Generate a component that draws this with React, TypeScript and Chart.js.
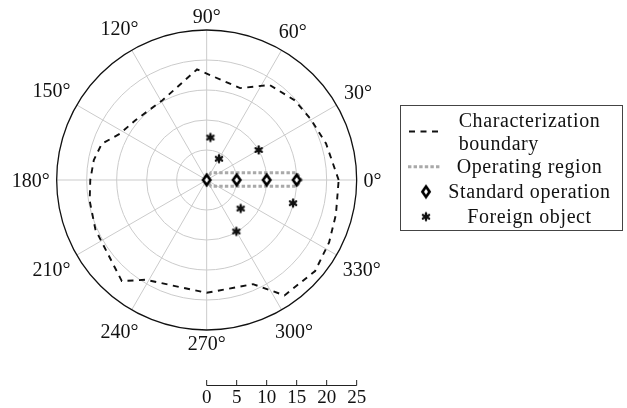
import React, { useEffect, useRef } from 'react';
import { Chart, registerables } from 'chart.js';

Chart.register(...registerables);

// ---- data (polar: angle in degrees, radius in units) ----
const boundaryAngles = [0, 17, 30, 42, 56.5, 70, 95, 119, 140, 152, 161, 170, 180, 190, 204, 230, 238.5, 270, 294, 304, 320, 333, 345];
const boundaryRadii = [22.0, 20.8, 20.1, 19.8, 19.0, 16.3, 18.5, 15.2, 15.5, 16.4, 18.5, 19.1, 19.4, 19.8, 20.3, 22.0, 19.5, 18.8, 19.0, 23.2, 23.6, 22.9, 22.3];

const regionAngles = [0, 60, 4.6, 0, -4, -56, 0];
const regionRadii = [0, 1.4, 15.05, 15.8, 15.04, 1.25, 0];

const standardAngles = [0, 0, 0, 0];
const standardRadii = [0, 5, 10, 15];

const foreignAngles = [85, 60, 30, 320, 300, 345];
const foreignRadii = [7.1, 4.1, 10.0, 7.4, 9.9, 14.9];

const angleTicks = [0, 30, 60, 90, 120, 150, 180, 210, 240, 270, 300, 330];
const radialTicks = [0, 5, 10, 15, 20, 25];
const radialMax = 25;

const seriesLabels = ['Characterization boundary', 'Operating region', 'Standard operation', 'Foreign object'];

const FONT = "'Liberation Serif', 'Times New Roman', serif";

const toXY = (angles: number[], radii: number[]) =>
  angles.map((a, i) => ({
    x: radii[i] * Math.cos((a * Math.PI) / 180),
    y: radii[i] * Math.sin((a * Math.PI) / 180),
  }));

function makeDiamond(): HTMLCanvasElement {
  const c = document.createElement('canvas');
  c.width = 12;
  c.height = 16;
  const g = c.getContext('2d')!;
  g.beginPath();
  g.moveTo(6, 8 - 5.2);
  g.lineTo(6 + 3.6, 8);
  g.lineTo(6, 8 + 5.2);
  g.lineTo(6 - 3.6, 8);
  g.closePath();
  g.fillStyle = '#ffffff';
  g.fill();
  g.lineWidth = 2.7;
  g.strokeStyle = '#000000';
  g.stroke();
  return c;
}

function makeAsterisk(): HTMLCanvasElement {
  const c = document.createElement('canvas');
  c.width = 12;
  c.height = 12;
  const g = c.getContext('2d')!;
  g.strokeStyle = '#111111';
  g.lineWidth = 2.3;
  g.lineCap = 'round';
  [90, 30, 150].forEach((a) => {
    const r = 3.6;
    const dx = r * Math.cos((a * Math.PI) / 180);
    const dy = r * Math.sin((a * Math.PI) / 180);
    g.beginPath();
    g.moveTo(6 - dx, 6 + dy);
    g.lineTo(6 + dx, 6 - dy);
    g.stroke();
  });
  return c;
}

export default function App() {
  const ref = useRef<HTMLCanvasElement | null>(null);

  useEffect(() => {
    if (!ref.current) return;
    const diamond = makeDiamond();
    const asterisk = makeAsterisk();
    const dashPattern = [6, 5.5];
    const dotPattern = [3.4, 2.2];

    const polarPlugin = {
      id: 'polarDecor',
      beforeDatasetsDraw(chart: any) {
        const { ctx } = chart;
        const xs = chart.scales.x;
        const ys = chart.scales.y;
        const cx = xs.getPixelForValue(0);
        const cy = ys.getPixelForValue(0);
        const pr = (r: number) => xs.getPixelForValue(r) - cx;
        ctx.save();
        ctx.strokeStyle = '#cbcbcb';
        ctx.lineWidth = 1;
        radialTicks.forEach((r) => {
          if (r <= 0 || r >= radialMax) return;
          ctx.beginPath();
          ctx.arc(cx, cy, pr(r), 0, Math.PI * 2);
          ctx.stroke();
        });
        angleTicks.forEach((a) => {
          const t = (a * Math.PI) / 180;
          ctx.beginPath();
          ctx.moveTo(cx, cy);
          ctx.lineTo(cx + pr(radialMax) * Math.cos(t), cy - pr(radialMax) * Math.sin(t));
          ctx.stroke();
        });
        ctx.strokeStyle = '#111111';
        ctx.lineWidth = 1.3;
        ctx.beginPath();
        ctx.arc(cx, cy, pr(radialMax), 0, Math.PI * 2);
        ctx.stroke();
        ctx.restore();
      },
      afterDraw(chart: any) {
        const { ctx } = chart;
        const xs = chart.scales.x;
        const ys = chart.scales.y;
        const cx = xs.getPixelForValue(0);
        const cy = ys.getPixelForValue(0);
        const R = xs.getPixelForValue(radialMax) - cx;
        ctx.save();
        // angle labels
        ctx.font = `20px ${FONT}`;
        ctx.fillStyle = '#111111';
        ctx.textAlign = 'center';
        ctx.textBaseline = 'alphabetic';
        const h = 13.3;
        const sep = 6.8;
        angleTicks.forEach((a) => {
          const t = (a * Math.PI) / 180;
          const txt = `${a}°`;
          const w = ctx.measureText(txt).width;
          const ux = Math.cos(t);
          const uy = -Math.sin(t);
          const px = cx + R * ux;
          const py = cy + R * uy;
          const d = (w / 2 + sep) * Math.abs(ux) + (h / 2 + sep) * Math.abs(uy);
          const tx = px + ux * d;
          const ty = py + uy * d;
          ctx.fillText(txt, tx, ty + h / 2);
        });

        // radial axis below
        const axisY = 385.5;
        ctx.strokeStyle = '#222222';
        ctx.lineWidth = 1;
        ctx.beginPath();
        ctx.moveTo(xs.getPixelForValue(radialTicks[0]), axisY);
        ctx.lineTo(xs.getPixelForValue(radialTicks[radialTicks.length - 1]), axisY);
        ctx.stroke();
        ctx.font = `19px ${FONT}`;
        radialTicks.forEach((v) => {
          const x = xs.getPixelForValue(v);
          ctx.beginPath();
          ctx.moveTo(x, axisY);
          ctx.lineTo(x, axisY - 5.5);
          ctx.stroke();
          ctx.fillText(String(v), x, 403);
        });

        // legend
        const bx = 400.5, by = 105.5, bw = 222, bh = 125;
        ctx.strokeStyle = '#444444';
        ctx.lineWidth = 1;
        ctx.strokeRect(bx, by, bw, bh);
        const sx0 = 409, sx1 = 440, sxc = 426;
        const tc = 529.5;
        ctx.font = `20px ${FONT}`;
        (ctx as any).letterSpacing = '0.6px';

        // row 1: boundary (two lines, left aligned block, centered)
        const words = seriesLabels[0].split(' ');
        const w1 = ctx.measureText(words[0]).width;
        const left = tc - w1 / 2;
        ctx.textAlign = 'left';
        ctx.fillText(words[0], left, 126.7);
        ctx.fillText(words.slice(1).join(' '), left, 150);
        ctx.strokeStyle = '#111111';
        ctx.lineWidth = 1.9;
        ctx.setLineDash(dashPattern);
        ctx.beginPath();
        ctx.moveTo(sx0, 131.5);
        ctx.lineTo(sx1, 131.5);
        ctx.stroke();

        // row 2: region
        ctx.strokeStyle = '#a9a9a9';
        ctx.lineWidth = 3;
        ctx.setLineDash(dotPattern);
        ctx.beginPath();
        ctx.moveTo(sx0 - 1, 166.7);
        ctx.lineTo(sx1 + 1, 166.7);
        ctx.stroke();
        ctx.setLineDash([]);
        ctx.textAlign = 'center';
        ctx.fillText(seriesLabels[1], tc, 173.3);

        // row 3: standard
        ctx.drawImage(diamond, sxc - diamond.width / 2, 191.7 - diamond.height / 2);
        ctx.fillText(seriesLabels[2], tc, 198.3);

        // row 4: foreign
        ctx.drawImage(asterisk, sxc - asterisk.width / 2, 216.7 - asterisk.height / 2);
        ctx.fillText(seriesLabels[3], tc, 223.3);
        ctx.restore();
      },
    };

    const boundaryPts = toXY(boundaryAngles, boundaryRadii);
    boundaryPts.push({ ...boundaryPts[0] });

    const chart = new Chart(ref.current, {
      type: 'scatter',
      data: {
        datasets: [
          {
            label: seriesLabels[0],
            data: boundaryPts,
            showLine: true,
            borderColor: '#111111',
            borderWidth: 1.9,
            borderDash: dashPattern,
            pointRadius: 0,
            tension: 0,
            order: 3,
          } as any,
          {
            label: seriesLabels[1],
            data: toXY(regionAngles, regionRadii),
            showLine: true,
            borderColor: '#a9a9a9',
            borderWidth: 3,
            borderDash: dotPattern,
            pointRadius: 0,
            tension: 0,
            order: 2,
          } as any,
          {
            label: seriesLabels[2],
            data: toXY(standardAngles, standardRadii),
            pointStyle: diamond,
            pointRadius: 5,
            showLine: false,
            order: 1,
          } as any,
          {
            label: seriesLabels[3],
            data: toXY(foreignAngles, foreignRadii),
            pointStyle: asterisk,
            pointRadius: 5,
            showLine: false,
            order: 0,
          } as any,
        ],
      },
      options: {
        responsive: false,
        maintainAspectRatio: false,
        devicePixelRatio: 1,
        animation: false,
        events: [],
        layout: { padding: { left: 56.67, right: 270.33, top: 30, bottom: 78 } },
        scales: {
          x: { type: 'linear', min: -radialMax, max: radialMax, display: false },
          y: { type: 'linear', min: -radialMax, max: radialMax, display: false },
        },
        plugins: {
          legend: { display: false },
          tooltip: { enabled: false },
        },
      },
      plugins: [polarPlugin],
    });
    return () => chart.destroy();
  }, []);

  return (
    <div style={{ position: 'fixed', left: 0, top: 0, width: 627, height: 408, background: '#ffffff' }}>
      <canvas ref={ref} width={627} height={408} style={{ width: 627, height: 408, display: 'block' }} />
    </div>
  );
}
